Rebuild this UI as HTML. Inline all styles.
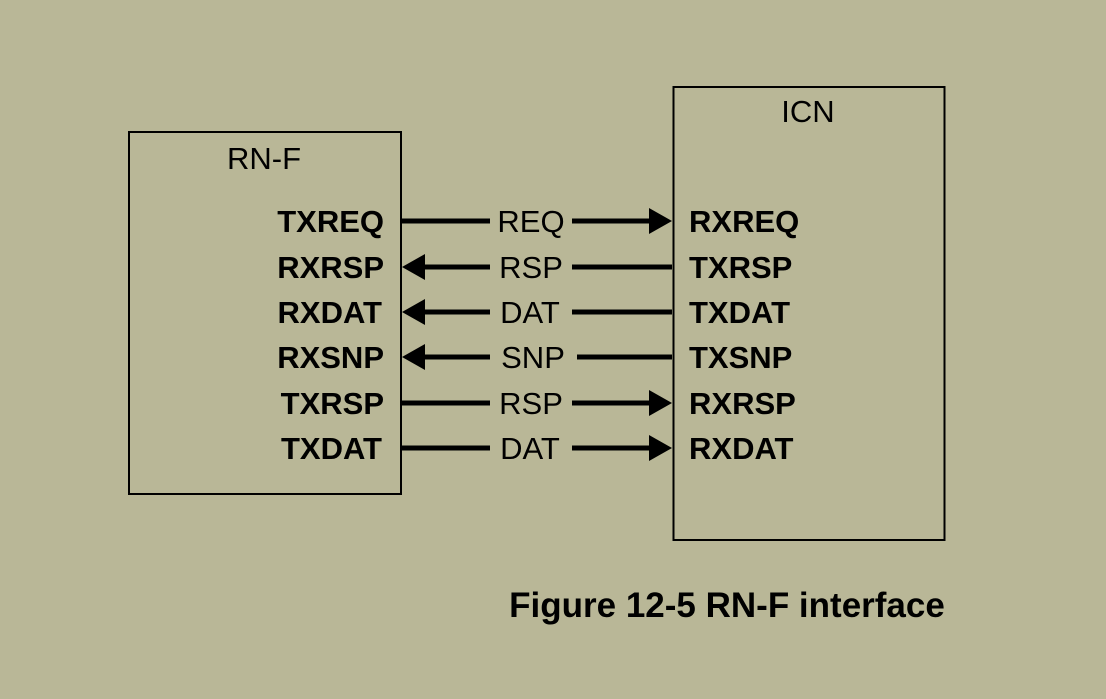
<!DOCTYPE html>
<html><head><style>
html,body{margin:0;padding:0;background:#b9b797;}
</style></head><body>
<svg width="1106" height="699" xmlns="http://www.w3.org/2000/svg" style="display:block">
<rect width="1106" height="699" fill="#b9b797"/>
<rect x="129" y="132" width="272" height="362" fill="none" stroke="#000" stroke-width="2"/>
<rect x="673.5" y="87" width="271" height="453" fill="none" stroke="#000" stroke-width="2"/>
<g font-family="Liberation Sans, sans-serif" font-size="31" fill="#000">
<text x="264" y="169" text-anchor="middle">RN-F</text>
<text x="808" y="122" text-anchor="middle">ICN</text>
<g font-weight="bold" text-anchor="end">
<text x="384" y="232">TXREQ</text>
<text x="384" y="278">RXRSP</text>
<text x="382" y="323">RXDAT</text>
<text x="384" y="368">RXSNP</text>
<text x="384" y="414">TXRSP</text>
<text x="382" y="459">TXDAT</text>
</g>
<g font-weight="bold">
<text x="689" y="232">RXREQ</text>
<text x="689" y="278">TXRSP</text>
<text x="689" y="323">TXDAT</text>
<text x="689" y="368">TXSNP</text>
<text x="689" y="414">RXRSP</text>
<text x="689" y="459">RXDAT</text>
</g>
<g text-anchor="middle">
<text x="531" y="232">REQ</text>
<text x="531" y="278">RSP</text>
<text x="530" y="323">DAT</text>
<text x="533" y="368">SNP</text>
<text x="531" y="414">RSP</text>
<text x="530" y="459">DAT</text>
</g>
<text x="727" y="617" text-anchor="middle" font-weight="bold" font-size="35">Figure 12-5 RN-F interface</text>
</g>
<g stroke="#000" stroke-width="5">
<line x1="402" y1="221" x2="490" y2="221"/><line x1="572" y1="221" x2="652" y2="221"/>
<line x1="422" y1="267" x2="490" y2="267"/><line x1="572" y1="267" x2="672" y2="267"/>
<line x1="422" y1="312" x2="490" y2="312"/><line x1="572" y1="312" x2="672" y2="312"/>
<line x1="422" y1="357" x2="490" y2="357"/><line x1="577" y1="357" x2="672" y2="357"/>
<line x1="402" y1="403" x2="490" y2="403"/><line x1="572" y1="403" x2="652" y2="403"/>
<line x1="402" y1="448" x2="490" y2="448"/><line x1="572" y1="448" x2="652" y2="448"/>
</g>
<g fill="#000">
<polygon points="672,221 649,208 649,234"/>
<polygon points="672,403 649,390 649,416"/>
<polygon points="672,448 649,435 649,461"/>
<polygon points="402,267 425,254 425,280"/>
<polygon points="402,312 425,299 425,325"/>
<polygon points="402,357 425,344 425,370"/>
</g>
</svg>
</body></html>
